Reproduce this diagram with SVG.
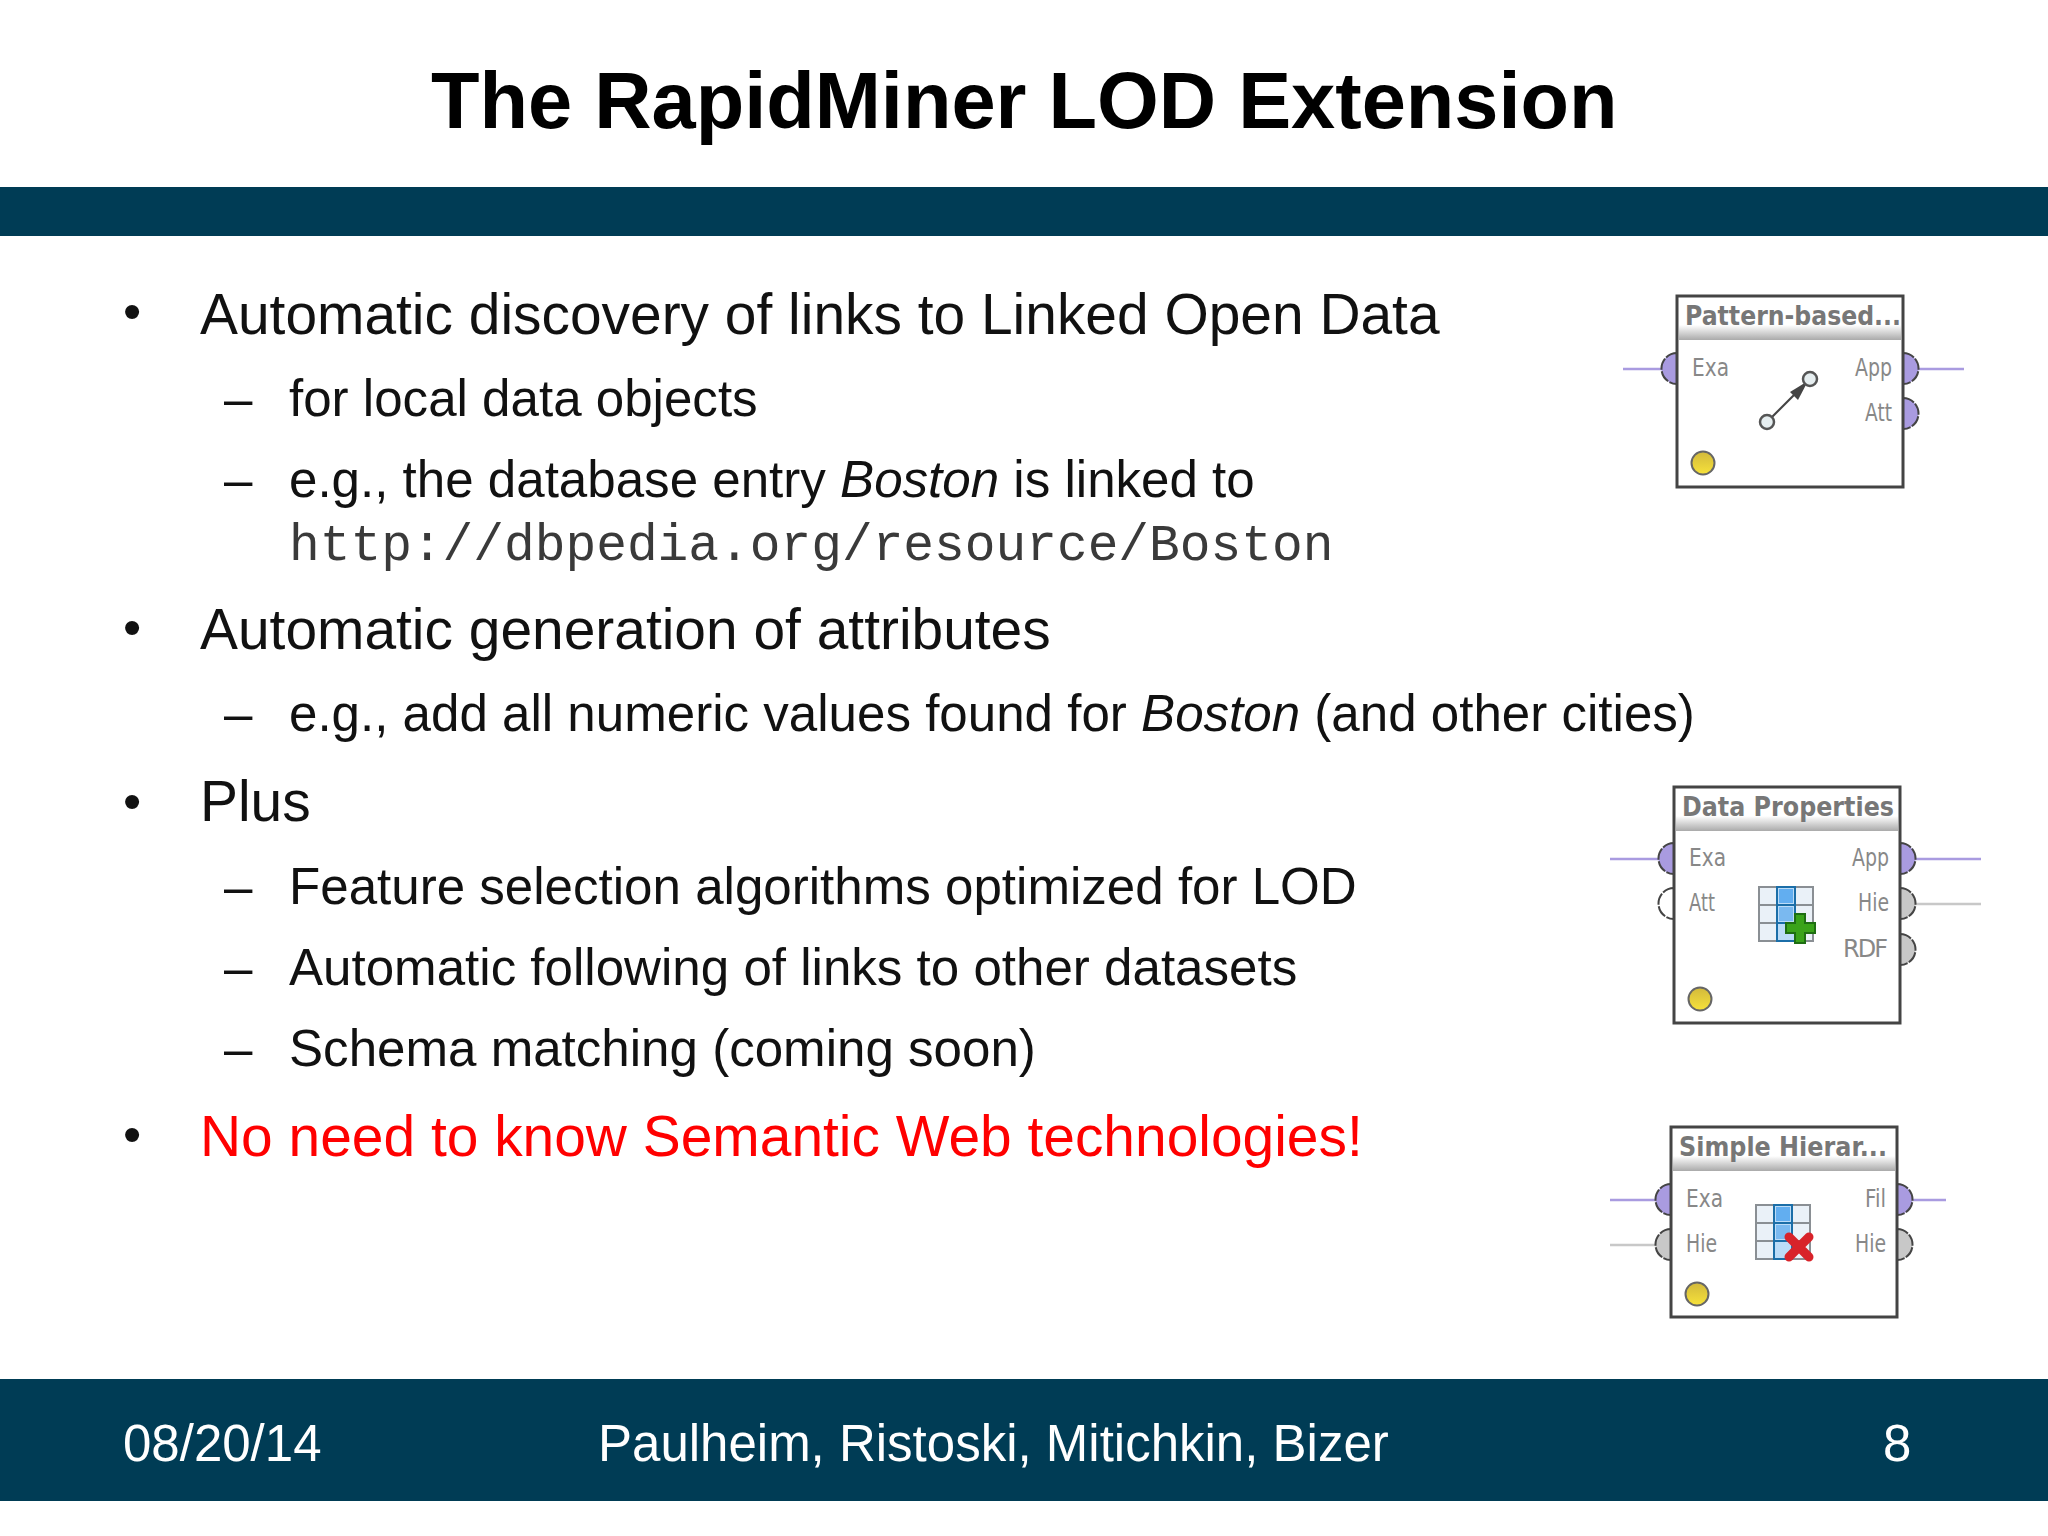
<svg xmlns="http://www.w3.org/2000/svg" xmlns:xlink="http://www.w3.org/1999/xlink" width="2048" height="1536" viewBox="0 0 2048 1536">
<style>
text{font-family:"Liberation Sans",Arial,sans-serif;fill:#111}
.t{font-size:79.4px;font-weight:bold;fill:#000}
.l1{font-size:56.9px}
.l2{font-size:51.1px}
.b{font-size:52px}
.m{font-family:"Liberation Mono","Courier New",monospace;font-size:51.2px;fill:#3a3a3a}
.f{font-size:51px;fill:#fff}
.box{fill:#fff;stroke:#444;stroke-width:3}
.h{font-size:27px;font-weight:bold;fill:#777;font-family:"DejaVu Sans",sans-serif}
.p{font-size:24px;fill:#888;font-family:"DejaVu Sans",sans-serif}
.pu{fill:#a99be0;stroke:#444;stroke-width:2;stroke-dasharray:12 1.500}
.gr{fill:#c8c8c8;stroke:#444;stroke-width:2;stroke-dasharray:12 1.500}
.wh{fill:#fff;stroke:#444;stroke-width:2;stroke-dasharray:12 1.500}
.lp{stroke:#a99be0;stroke-width:2.500;fill:none}
.lg{stroke:#c8c8c8;stroke-width:2.500;fill:none}
.led{fill:url(#y);stroke:#666;stroke-width:2}
</style>
<defs>
<linearGradient id="hd" x1="0" y1="0" x2="0" y2="1"><stop offset="0" stop-color="#fff"/><stop offset="1" stop-color="#aaa"/></linearGradient>
<linearGradient id="y" x1="0" y1="0" x2="0" y2="1"><stop offset="0" stop-color="#d2b93c"/><stop offset="1" stop-color="#f7e23a"/></linearGradient>
<g id="grid">
<rect width="54" height="54" fill="#eaf1f8"/>
<rect x="18" y="0" width="18" height="54" fill="#bcdcf8"/>
<rect x="20" y="2" width="14" height="14" fill="#62aef0"/>
<rect x="20" y="20" width="14" height="14" fill="#7ab9f0"/>
<path d="M0 0H54V54H0ZM0 18H54M0 36H54M18 0V54M36 0V54" fill="none" stroke="#8a8f94" stroke-width="2"/>
<path d="M18 0H36V54H18ZM18 18H36M18 36H36" fill="none" stroke="#1b6ea8" stroke-width="2"/>
</g>
</defs>
<rect width="2048" height="1536" fill="#fff"/>
<rect id="topbar" x="0" y="187" width="2048" height="49" fill="#003c55"/>
<rect id="footer" x="0" y="1379" width="2048" height="122" fill="#003c55"/>
<text class="t" x="431" y="128">The RapidMiner LOD Extension</text>

<g id="body">
<text class="b" x="123" y="329">•</text>
<text class="l1" x="200" y="334">Automatic discovery of links to Linked Open Data</text>
<text class="l2" x="224" y="416">–</text>
<text class="l2" x="289" y="416">for local data objects</text>
<text class="l2" x="224" y="497">–</text>
<text class="l2" x="289" y="497">e.g., the database entry <tspan font-style="italic">Boston</tspan> is linked to</text>
<text class="m" x="289" y="560">http://dbpedia.org/resource/Boston</text>
<text class="b" x="123" y="645">•</text>
<text class="l1" x="200" y="649">Automatic generation of attributes</text>
<text class="l2" x="224" y="731">–</text>
<text class="l2" x="289" y="731">e.g., add all numeric values found for <tspan font-style="italic">Boston</tspan> (and other cities)</text>
<text class="b" x="123" y="819">•</text>
<text class="l1" x="200" y="821">Plus</text>
<text class="l2" x="224" y="904">–</text>
<text class="l2" x="289" y="904">Feature selection algorithms optimized for LOD</text>
<text class="l2" x="224" y="985">–</text>
<text class="l2" x="289" y="985">Automatic following of links to other datasets</text>
<text class="l2" x="224" y="1066">–</text>
<text class="l2" x="289" y="1066">Schema matching (coming soon)</text>
<text class="b" x="123" y="1152">•</text>
<text class="l1" x="200" y="1156" style="fill:#f00">No need to know Semantic Web technologies!</text>
</g>

<g id="foot">
<text class="f" x="123" y="1461">08/20/14</text>
<text class="f" x="598" y="1461">Paulheim, Ristoski, Mitichkin, Bizer</text>
<text class="f" x="1883" y="1461">8</text>
</g>

<g id="connectors">
<path class="lp" d="M1623 369H1662"/>
<path class="lp" d="M1918 369H1964"/>
<path class="lp" d="M1610 859H1660"/>
<path class="lp" d="M1915 859H1981"/>
<path class="lg" d="M1915 904H1981"/>
<path class="lp" d="M1610 1200H1656"/>
<path class="lg" d="M1610 1245H1656"/>
<path class="lp" d="M1913 1200H1946"/>
</g>

<g id="node-pattern">
<path class="pu" d="M1677 353A15.500 15.500 0 0 0 1677 384Z"/>
<path class="pu" d="M1903 353A15.500 15.500 0 0 1 1903 384Z"/>
<path class="pu" d="M1903 398A15.500 15.500 0 0 1 1903 429Z"/>
<rect class="box" x="1677" y="296" width="226" height="191"/>
<rect x="1679" y="325" width="222" height="15" fill="url(#hd)"/>
<text class="h" x="1685" y="325" textLength="216" lengthAdjust="spacingAndGlyphs">Pattern-based...</text>
<text class="p" x="1692" y="376" textLength="37" lengthAdjust="spacingAndGlyphs">Exa</text>
<text class="p" x="1855" y="376" textLength="37" lengthAdjust="spacingAndGlyphs">App</text>
<text class="p" x="1865" y="421" textLength="27" lengthAdjust="spacingAndGlyphs">Att</text>
<path d="M1767 422L1810 379" stroke="#444" stroke-width="2"/>
<path d="M1808 381L1790 392L1798 400Z" fill="#444"/>
<circle cx="1767" cy="422" r="7" fill="#e6eef0" stroke="#555" stroke-width="2.500"/>
<circle cx="1810" cy="379" r="7" fill="#e6eef0" stroke="#555" stroke-width="2.500"/>
<circle class="led" cx="1703" cy="463" r="11.500"/>
</g>

<g id="node-data">
<path class="pu" d="M1674 843A15.500 15.500 0 0 0 1674 874Z"/>
<path class="wh" d="M1674 888A15.500 15.500 0 0 0 1674 919Z"/>
<path class="pu" d="M1900 843A15.500 15.500 0 0 1 1900 874Z"/>
<path class="gr" d="M1900 888A15.500 15.500 0 0 1 1900 919Z"/>
<path class="gr" d="M1900 934A15.500 15.500 0 0 1 1900 965Z"/>
<rect class="box" x="1674" y="787" width="226" height="236"/>
<rect x="1676" y="816" width="222" height="15" fill="url(#hd)"/>
<text class="h" x="1682" y="816" textLength="212" lengthAdjust="spacingAndGlyphs">Data Properties</text>
<text class="p" x="1689" y="866" textLength="37" lengthAdjust="spacingAndGlyphs">Exa</text>
<text class="p" x="1689" y="911" textLength="26" lengthAdjust="spacingAndGlyphs">Att</text>
<text class="p" x="1852" y="866" textLength="37" lengthAdjust="spacingAndGlyphs">App</text>
<text class="p" x="1858" y="911" textLength="31" lengthAdjust="spacingAndGlyphs">Hie</text>
<text class="p" x="1843" y="957" textLength="45" lengthAdjust="spacing">RDF</text>
<use xlink:href="#grid" href="#grid" x="1759" y="887"/>
<path d="M1795 914H1805V923H1815V933H1805V943H1795V933H1786V923H1795Z" fill="#3aa31a" stroke="#1e6e12" stroke-width="2"/>
<circle class="led" cx="1700" cy="999" r="11.500"/>
</g>

<g id="node-hier">
<path class="pu" d="M1671 1184A15.500 15.500 0 0 0 1671 1215Z"/>
<path class="gr" d="M1671 1229A15.500 15.500 0 0 0 1671 1260Z"/>
<path class="pu" d="M1897 1184A15.500 15.500 0 0 1 1897 1215Z"/>
<path class="gr" d="M1897 1229A15.500 15.500 0 0 1 1897 1260Z"/>
<rect class="box" x="1671" y="1127" width="226" height="190"/>
<rect x="1673" y="1156" width="222" height="15" fill="url(#hd)"/>
<text class="h" x="1679" y="1156" textLength="208" lengthAdjust="spacingAndGlyphs">Simple Hierar...</text>
<text class="p" x="1686" y="1207" textLength="37" lengthAdjust="spacingAndGlyphs">Exa</text>
<text class="p" x="1686" y="1252" textLength="31" lengthAdjust="spacingAndGlyphs">Hie</text>
<text class="p" x="1865" y="1207" textLength="21" lengthAdjust="spacingAndGlyphs">Fil</text>
<text class="p" x="1855" y="1252" textLength="31" lengthAdjust="spacingAndGlyphs">Hie</text>
<use xlink:href="#grid" href="#grid" x="1756" y="1205"/>
<path d="M1789 1237L1809 1257M1809 1237L1789 1257" stroke="#d8232a" stroke-width="9" stroke-linecap="round"/>
<circle class="led" cx="1697" cy="1294" r="11.500"/>
</g>
</svg>
